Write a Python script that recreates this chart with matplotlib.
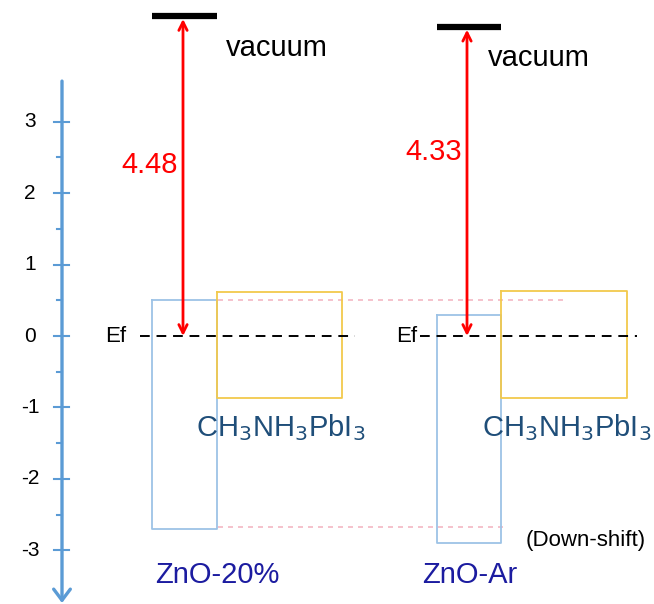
import matplotlib.pyplot as plt

plt.rcParams['font.family'] = ['Liberation Sans', 'DejaVu Sans']

# energy axis (eV, relative to Ef)
major_ticks = [3, 2, 1, 0, -1, -2, -3]
minor_ticks = [2.5, 1.5, 0.5, -0.5, -1.5, -2.5]

# band edges
samples = ["ZnO-20%", "ZnO-Ar"]
zno_top = [0.50, 0.29]
zno_bottom = [-2.70, -2.90]
mapi_top = [0.62, 0.63]
mapi_bottom = [-0.87, -0.87]
work_function = [4.48, 4.33]
work_labels = ["4.48", "4.33"]

# layout (horizontal positions in figure pixels)
zno_x = [(152, 217), (437, 501)]
mapi_x = [(217, 342), (501, 627)]
arrow_x = [183, 467]
ef_x = [(140, 355), (420, 637)]
label_y = [2.40, 2.58]

px_per_ev = 71.4
y0_px = 336
W, H = 654, 604

fig = plt.figure(figsize=(6.54, 6.04), dpi=100)
ax = fig.add_axes([0, 0, 1, 1])
ax.set_xlim(0, W)
ax.set_ylim(-(H - y0_px) / px_per_ev, y0_px / px_per_ev)
ax.axis('off')

axis_blue = '#5B9BD5'
box_blue = '#9DC3E6'
yellow = '#F2C94C'
pink = '#F4B8C4'

# vertical energy axis with arrow pointing down
ax.annotate('', xy=(62, -3.74), xytext=(62, 3.57),
            arrowprops=dict(arrowstyle='->,head_length=0.8,head_width=0.6',
                            color=axis_blue, lw=2.4, shrinkA=0, shrinkB=0))
for t in major_ticks:
    ax.plot([54, 69], [t, t], color=axis_blue, lw=1.5)
    ax.text(30, t, str(t), ha='center', va='center', fontsize=15)
for t in minor_ticks:
    ax.plot([57, 62], [t, t], color=axis_blue, lw=1.5)

# pink reference lines at ZnO-20% levels
ax.plot([218, 568], [zno_top[0], zno_top[0]], color=pink, lw=1.2, ls=(0, (3, 3)))
ax.plot([218, 505], [zno_bottom[0] + 0.02, zno_bottom[0] + 0.02], color=pink, lw=1.2, ls=(0, (3, 3)))

for i in range(2):
    # ZnO box
    x1, x2 = zno_x[i]
    ax.plot([x1, x2, x2, x1, x1],
            [zno_top[i], zno_top[i], zno_bottom[i], zno_bottom[i], zno_top[i]],
            color=box_blue, lw=1.3)
    # perovskite box
    m1, m2 = mapi_x[i]
    ax.plot([m1, m2, m2, m1, m1],
            [mapi_top[i], mapi_top[i], mapi_bottom[i], mapi_bottom[i], mapi_top[i]],
            color=yellow, lw=1.3)
    # Fermi level
    e1, e2 = ef_x[i]
    ax.plot([e1, e2], [0, 0], color='black', lw=1.4, ls=(0, (5, 3.5)))
    # vacuum level and work function arrow
    ax.plot([x1, x2], [work_function[i], work_function[i]], color='black', lw=4.5,
            solid_capstyle='butt')
    ax.annotate('', xy=(arrow_x[i], work_function[i] - 0.04), xytext=(arrow_x[i], 0),
                arrowprops=dict(arrowstyle='<->,head_length=0.6,head_width=0.3',
                                color='#FF0000', lw=2, shrinkA=0, shrinkB=0))
    ax.text(arrow_x[i] - 5, label_y[i], work_labels[i], color='#FF0000',
            ha='right', va='center', fontsize=21)

ax.text(226, 4.04, 'vacuum', fontsize=21, va='center', ha='left')
ax.text(488, 3.90, 'vacuum', fontsize=21, va='center', ha='left')

ax.text(105, 0, 'Ef', fontsize=16, va='center', ha='left')
ax.text(396, 0, 'Ef', fontsize=16, va='center', ha='left')

mapi_label = r'CH$_3$NH$_3$PbI$_3$'
ax.text(196, -1.28, mapi_label, color='#1F4E79', fontsize=21, va='center', ha='left')
ax.text(482, -1.28, mapi_label, color='#1F4E79', fontsize=21, va='center', ha='left')

ax.text(155, -3.35, samples[0], color='#1C1CA0', fontsize=21, va='center', ha='left')
ax.text(422, -3.35, samples[1], color='#1C1CA0', fontsize=21, va='center', ha='left')
ax.text(526, -2.86, '(Down-shift)', fontsize=16, va='center', ha='left')

fig.savefig('out.png', dpi=100)
